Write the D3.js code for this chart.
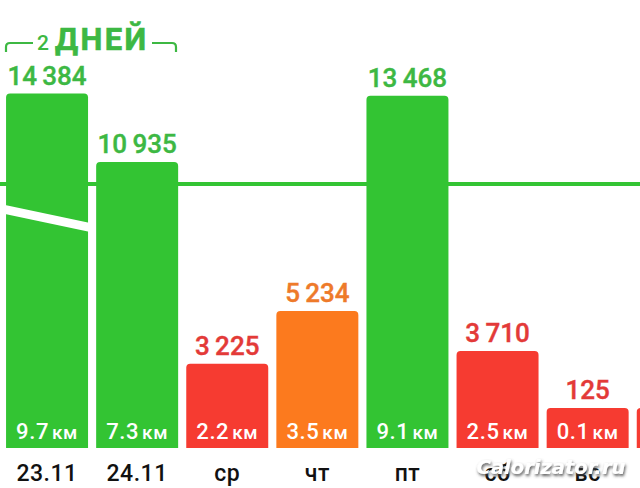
<!DOCTYPE html>
<html>
<head>
<meta charset="utf-8">
<script src="https://cdn.jsdelivr.net/npm/d3@7"></script>
<style>
  html, body { margin: 0; padding: 0; background: #ffffff; }
  svg { display: block; }
</style>
</head>
<body>
<svg id="chart" width="640" height="488"></svg>
<script>
// Daily step counts with distance walked
const categories = ["23.11", "24.11", "ср", "чт", "пт", "сб", "вс", "пн"];
const steps      = [14384, 10935, 3225, 5234, 13468, 3710, 125, 400];
const distanceKm = ["9.7", "7.3", "2.2", "3.5", "9.1", "2.5", "0.1", "0.3"];
const stepGoal   = 10000;
const streakLabel = { count: "2", word: "ДНЕЙ" };

const W = 640, H = 488;
const baseY = 448;
const capValue = 13550;   // taller bars are cut with a break mark
const minBarPx = 40;      // room for the distance label inside a bar

const colors = {
  green: "#33c433", greenText: "#3db843",
  orange: "#fc7a1e", orangeText: "#ee7a2a",
  red: "#f63b31", redText: "#e33a38"
};
function level(v) { return v >= stepGoal ? "green" : v >= 5000 ? "orange" : "red"; }

const svg = d3.select("#chart");

const x = d3.scaleBand()
  .domain(categories)
  .range([2, 2 + 8 * 90.1])
  .paddingInner(0.09)
  .paddingOuter(0.045);

const y = d3.scaleLinear().domain([0, 10935]).range([baseY, 162]);

const data = categories.map((c, i) => ({ c, v: steps[i], km: distanceKm[i] }));
const cx = d => x(d.c) + x.bandwidth() / 2;
const inView = data.filter(d => cx(d) < W);   // labels of the last bar fall off the edge
function topY(d) {
  const shown = Math.min(d.v, capValue);
  return Math.min(y(shown), baseY - minBarPx);
}

// goal line
svg.append("line")
  .attr("x1", 0).attr("x2", W)
  .attr("y1", y(stepGoal) - 2.5).attr("y2", y(stepGoal) - 2.5)
  .attr("stroke", colors.green).attr("stroke-width", 4);

// bars with rounded top corners
const r = 4;
function barPath(d) {
  const x0 = x(d.c), x1 = x0 + x.bandwidth(), t = topY(d);
  return `M${x0},${baseY} L${x0},${t + r} Q${x0},${t} ${x0 + r},${t} L${x1 - r},${t} Q${x1},${t} ${x1},${t + r} L${x1},${baseY} Z`;
}
svg.append("g").selectAll("path").data(data).join("path")
  .attr("d", barPath)
  .attr("fill", d => colors[level(d.v)]);

// break mark on bars above the cap
data.filter(d => d.v > capValue).forEach(d => {
  const x0 = x(d.c) - 1, x1 = x(d.c) + x.bandwidth() + 1;
  const slope = 0.21, yL = 205;
  svg.append("path")
    .attr("d", `M${x0},${yL} L${x1},${yL + slope * (x1 - x0)} L${x1},${yL + slope * (x1 - x0) + 9} L${x0},${yL + 9} Z`)
    .attr("fill", "#ffffff");
});

// value labels above bars
const fmt = v => d3.format(",")(v).replace(/,/g, "\u2009");
svg.append("g").selectAll("text").data(inView).join("text")
  .attr("x", cx)
  .attr("y", d => topY(d) - 9)
  .attr("text-anchor", "middle")
  .attr("font-family", "Roboto, sans-serif")
  .attr("font-weight", 500)
  .attr("font-size", 26)
  .attr("fill", d => colors[level(d.v) + "Text"])
  .attr("stroke", d => colors[level(d.v) + "Text"])
  .attr("stroke-width", 0.4)
  .text(d => fmt(d.v));

// distance labels inside bars
const kmText = svg.append("g").selectAll("text").data(inView).join("text")
  .attr("x", cx)
  .attr("y", baseY - 9)
  .attr("text-anchor", "middle")
  .attr("font-family", "Roboto, sans-serif")
  .attr("font-weight", 500)
  .attr("fill", "#ffffff");
kmText.append("tspan").attr("font-size", 22).attr("letter-spacing", 0.6).text(d => d.km);
kmText.append("tspan").attr("font-size", 19).attr("dx", 3).attr("letter-spacing", 0.6).text("км");

// category labels
svg.append("g").selectAll("text").data(inView).join("text")
  .attr("x", cx)
  .attr("y", 481)
  .attr("text-anchor", "middle")
  .attr("font-family", "Roboto, sans-serif")
  .attr("font-weight", 500)
  .attr("font-size", 23)
  .attr("letter-spacing", 0.5)
  .attr("fill", "#111111")
  .text(d => d.c);

// streak bracket
const br = svg.append("g");
br.append("path")
  .attr("d", "M6,52 L6,47 Q6,43 10,43 L33,43")
  .attr("fill", "none").attr("stroke", colors.greenText).attr("stroke-width", 2.2);
br.append("path")
  .attr("d", "M152,43 L172,43 Q176,43 176,47 L176,52")
  .attr("fill", "none").attr("stroke", colors.greenText).attr("stroke-width", 2.2);
const st = br.append("text")
  .attr("x", 37).attr("y", 50)
  .attr("font-family", "Roboto, sans-serif")
  .attr("fill", colors.greenText);
st.append("tspan").attr("font-size", 21).attr("font-weight", 500).text(streakLabel.count);
st.append("tspan").attr("font-size", 31).attr("font-weight", 700).attr("dx", 6)
  .attr("letter-spacing", 2.4).attr("stroke", colors.greenText).attr("stroke-width", 0.6)
  .text(streakLabel.word);

// site mark
const defs = svg.append("defs");
const f = defs.append("filter").attr("id", "shadow").attr("x", "-10%").attr("y", "-30%").attr("width", "120%").attr("height", "160%");
f.append("feDropShadow").attr("dx", 1).attr("dy", 2).attr("stdDeviation", 1.8).attr("flood-color", "#444").attr("flood-opacity", 0.9);
svg.append("text")
  .attr("x", 551).attr("y", 474)
  .attr("text-anchor", "middle")
  .attr("font-family", "'DejaVu Sans', sans-serif")
  .attr("font-style", "italic")
  .attr("font-weight", 700)
  .attr("font-size", 19.5)
  .attr("fill", "#ffffff")
  .attr("filter", "url(#shadow)")
  .text("Calorizator.ru");
</script>
</body>
</html>
